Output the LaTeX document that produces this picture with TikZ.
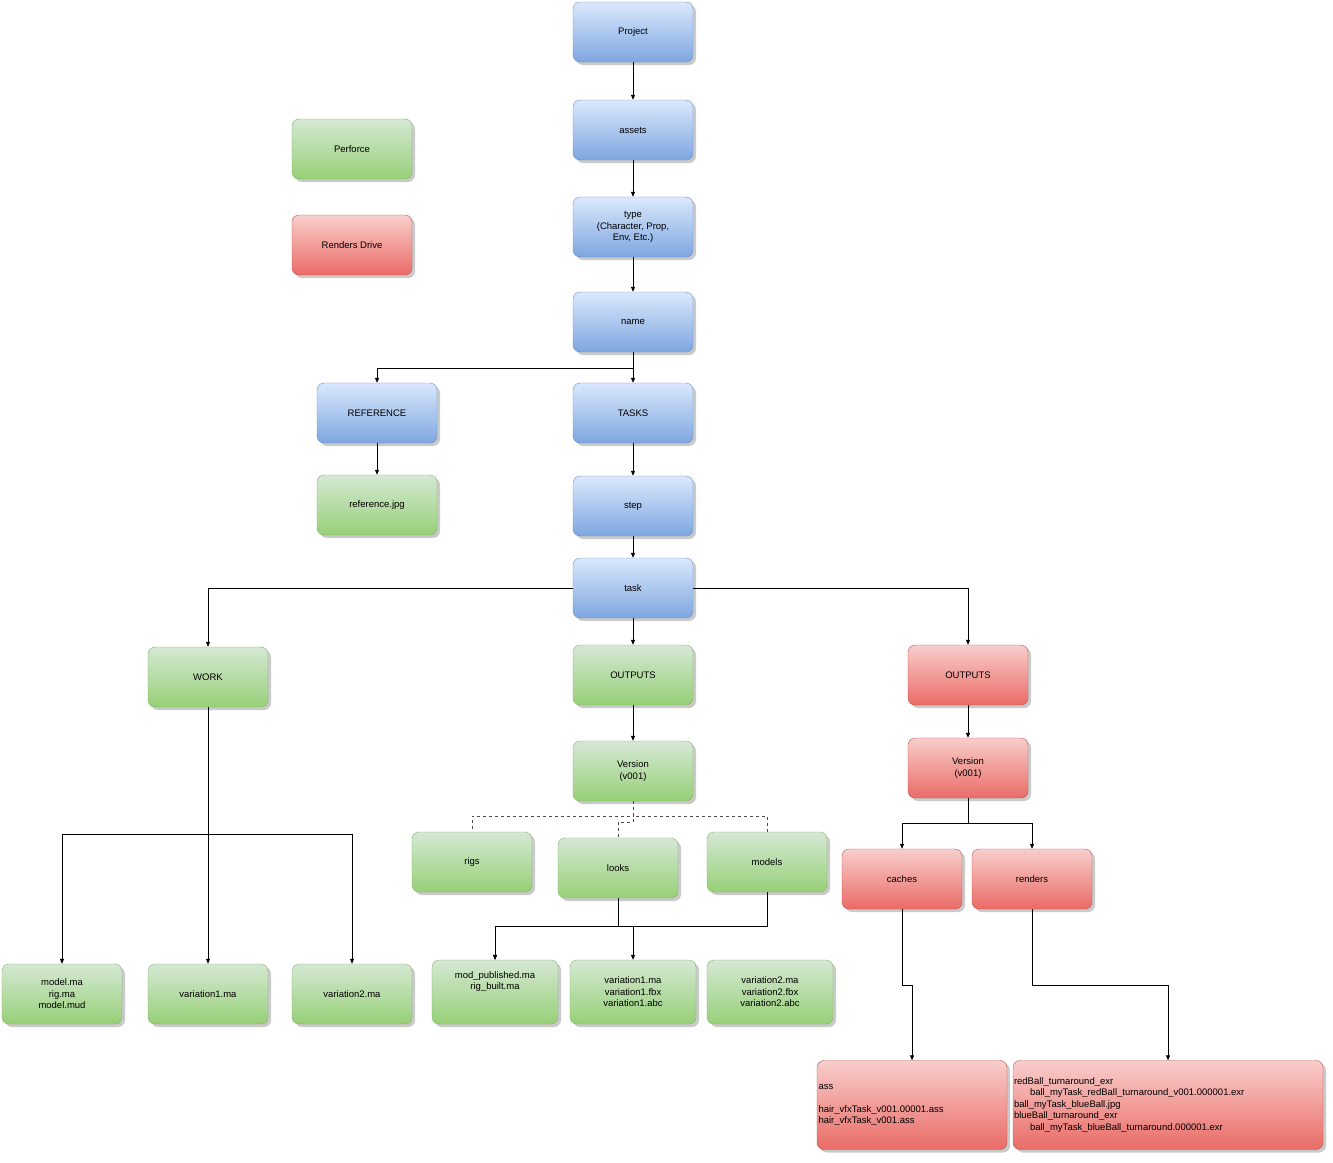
\documentclass[tikz,border=0pt]{standalone}
\usepackage{fontspec}
\setmainfont{Liberation Sans}
\usetikzlibrary{shadows,arrows.meta}
\definecolor{bT}{HTML}{DAE8FC}\definecolor{bB}{HTML}{7EA6E0}\definecolor{bS}{HTML}{6C8EBF}
\definecolor{gT}{HTML}{D5E8D4}\definecolor{gB}{HTML}{97D077}\definecolor{gS}{HTML}{82B366}
\definecolor{rT}{HTML}{F8CECC}\definecolor{rB}{HTML}{EA6B66}\definecolor{rS}{HTML}{B85450}
\tikzset{
 box/.style={rectangle,rounded corners=7pt,minimum width=120pt,minimum height=60pt,inner sep=1pt,align=center,
   font=\fontsize{9.5}{11.5}\selectfont,drop shadow={shadow xshift=3pt,shadow yshift=-3pt,fill=black!35,opacity=0.6}},
 bl/.style={box,draw=bS,top color=bT,bottom color=bB},
 gr/.style={box,draw=gS,top color=gT,bottom color=gB},
 rd/.style={box,draw=rS,top color=rT,bottom color=rB},
 con/.style={draw=black,line width=0.8pt,-{Triangle[length=5pt,width=4pt]}},
 dcon/.style={draw=black!70,line width=0.8pt,dashed},
}
\begin{document}
\begin{tikzpicture}[x=1pt,y=-1pt]
\useasboundingbox (0,0) rectangle (1333,1162);
\node[bl] (project) at (633,32) {Project};
\node[bl] (assets) at (633,130) {assets};
\node[bl] (type) at (633,227) {type\\(Character, Prop,\\Env, Etc.)};
\node[bl] (name) at (633,322) {name};
\node[bl] (ref) at (377,413) {REFERENCE};
\node[bl] (tasks) at (633,413) {TASKS};
\node[gr] (refjpg) at (377,505) {reference.jpg};
\node[bl] (step) at (633,506) {step};
\node[bl] (task) at (633,588) {task};
\node[gr] (perforce) at (352,149) {Perforce};
\node[rd] (renders drive) at (352,245) {Renders Drive};
\node[gr] (work) at (208,677) {WORK};
\node[gr] (outg) at (633,675) {OUTPUTS};
\node[rd] (outr) at (968,675) {OUTPUTS};
\node[gr] (verg) at (633,771) {Version\\(v001)};
\node[rd] (verr) at (968,768) {Version\\(v001)};
\node[gr] (rigs) at (472,862) {rigs};
\node[gr] (looks) at (618,868) {looks};
\node[gr] (models) at (767,862) {models};
\node[rd] (caches) at (902,879) {caches};
\node[rd] (renders) at (1032,879) {renders};
\node[gr] (m1) at (62,994) {model.ma\\rig.ma\\model.mud};
\node[gr] (m2) at (208,994) {variation1.ma};
\node[gr] (m3) at (352,994) {variation2.ma};
\node[gr,minimum width=126pt,minimum height=64pt] (p1) at (495,992) {mod\_published.ma\\rig\_built.ma\\[11.5pt]};
\node[gr,minimum width=126pt,minimum height=64pt] (p2) at (633,992) {variation1.ma\\variation1.fbx\\variation1.abc};
\node[gr,minimum width=126pt,minimum height=64pt] (p3) at (770,992) {variation2.ma\\variation2.fbx\\variation2.abc};
\node[rd,minimum width=190pt,minimum height=89pt,text width=187pt,align=left] (ass) at (912,1105) {ass\\[11.5pt]hair\_vfxTask\_v001.00001.ass\\hair\_vfxTask\_v001.ass};
\node[rd,minimum width=310pt,minimum height=89pt,text width=308pt,align=left] (rbox) at (1168,1105) {redBall\_turnaround\_exr\\\hspace*{16pt}ball\_myTask\_redBall\_turnaround\_v001.000001.exr\\ball\_myTask\_blueBall.jpg\\blueBall\_turnaround\_exr\\\hspace*{16pt}ball\_myTask\_blueBall\_turnaround.000001.exr};
% connectors
\draw[con] (project) -- (assets);
\draw[con] (assets) -- (type);
\draw[con] (type) -- (name);
\draw[con] (name) -- (tasks);
\draw[con] (name.south) -- ++(0,16) -| (ref.north);
\draw[con] (ref) -- (refjpg);
\draw[con] (tasks) -- (step);
\draw[con] (step) -- (task);
\draw[con] (task.west) -| (work.north);
\draw[con] (task.east) -| (outr.north);
\draw[con] (task) -- (outg);
\draw[con] (outg) -- (verg);
\draw[con] (outr) -- (verr);
\draw[dcon] (verg.south) -- ++(0,15) -| (rigs.north);
\draw[dcon] (verg.south) -- ++(0,15) -| (models.north);
\draw[dcon] (verg.south) -- ++(0,21) -| (looks.north);
\draw[con] (verr.south) -- ++(0,25) -| (caches.north);
\draw[con] (verr.south) -- ++(0,25) -| (renders.north);
\draw[con] (work.south) -- ++(0,127) -| (m1.north);
\draw[con] (work.south) -- ++(0,127) -| (m3.north);
\draw[con] (work) -- (m2);
\draw[con] (looks.south) -- ++(0,28) -| (p1.north);
\draw[con] (looks.south) -- ++(0,28) -| (p2.north);
\draw[con] (models.south) -- ++(0,34) -| (p1.north);
\draw[con] (caches.south) -- ++(0,76) -| (ass.north);
\draw[con] (renders.south) -- ++(0,76) -| (rbox.north);
\end{tikzpicture}
\end{document}
